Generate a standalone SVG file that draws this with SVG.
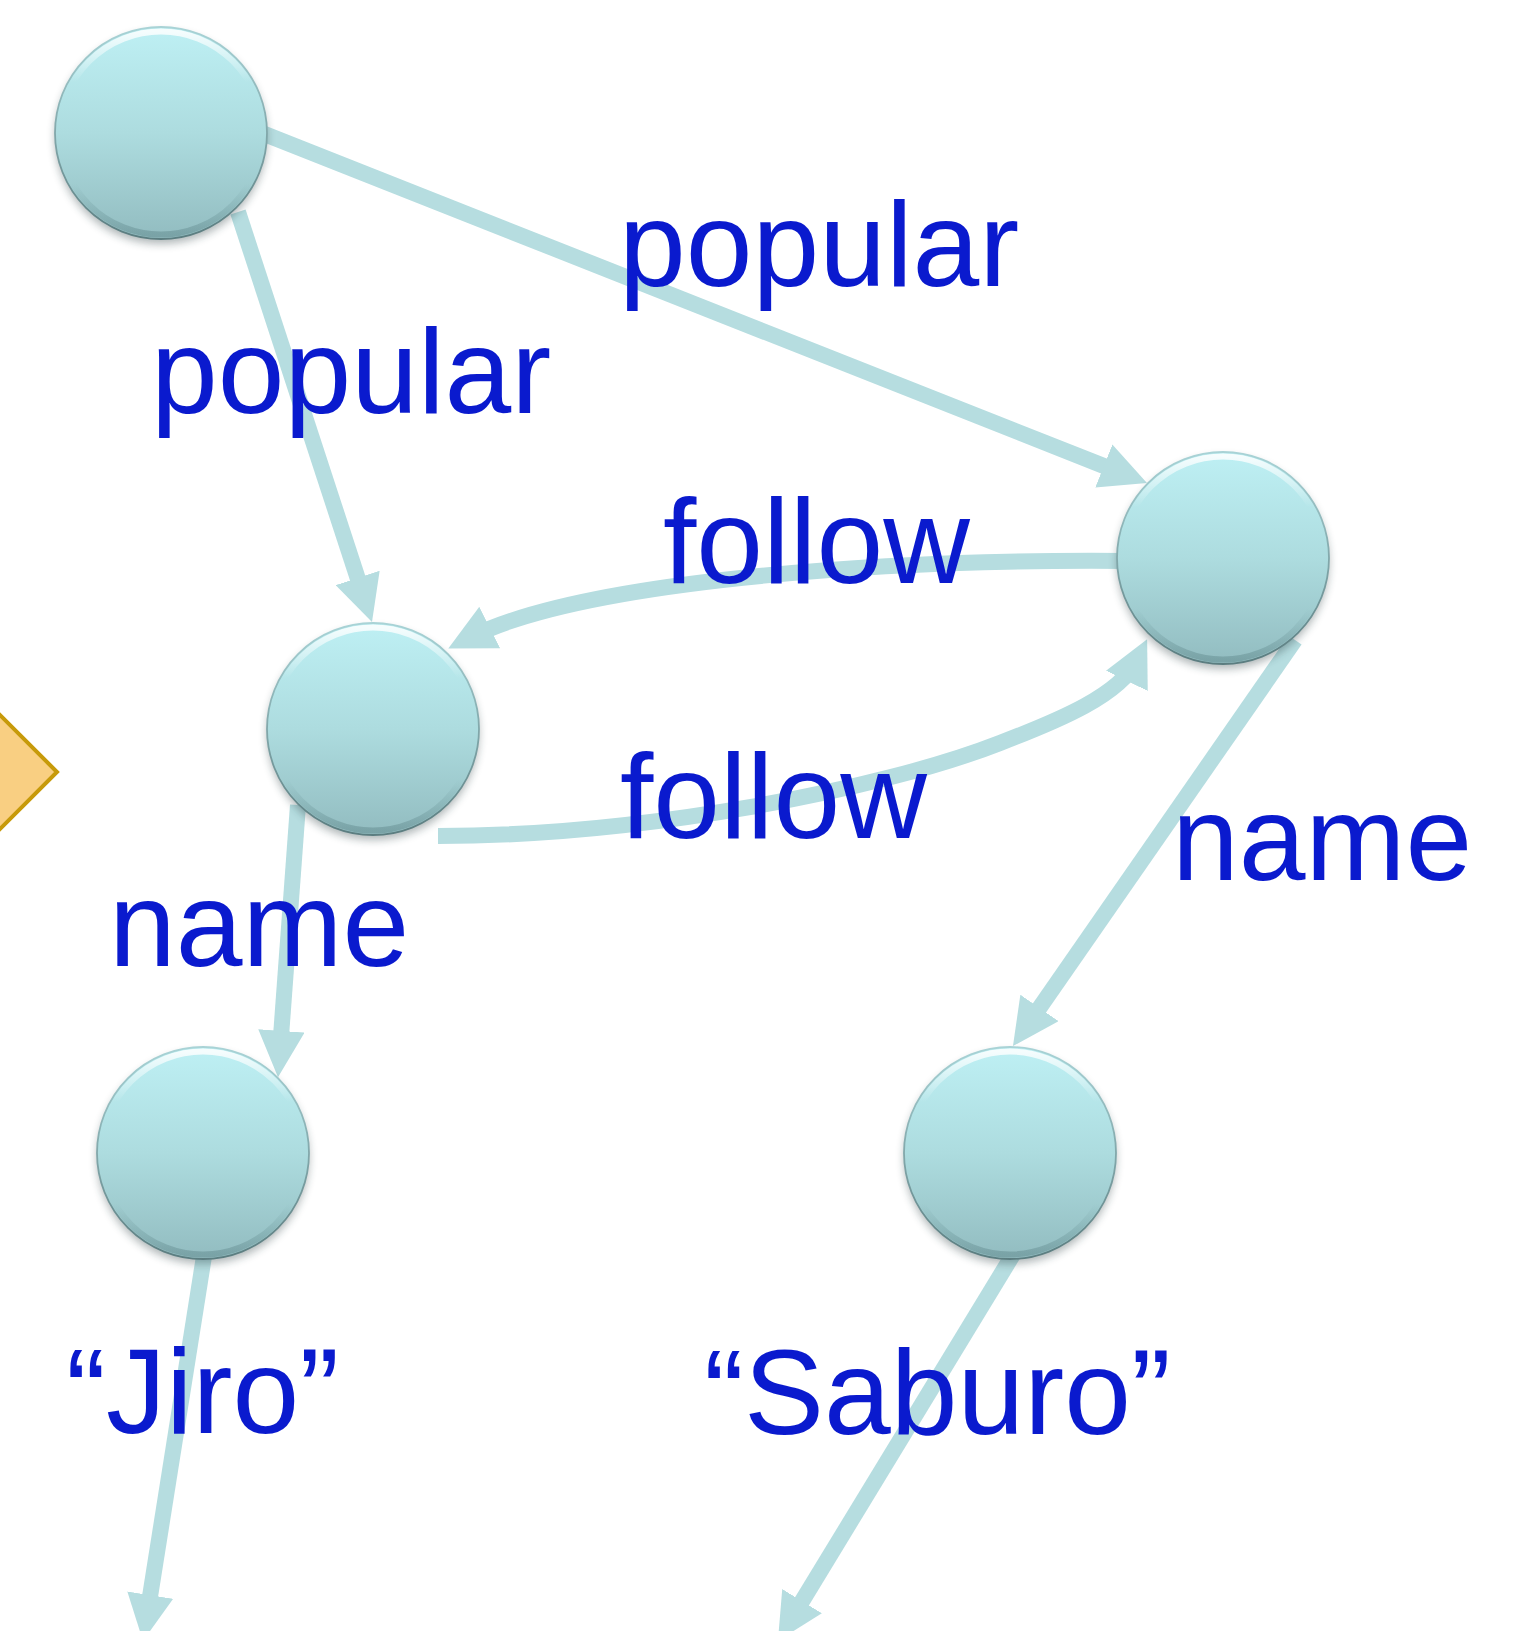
<svg xmlns="http://www.w3.org/2000/svg" xmlns:xlink="http://www.w3.org/1999/xlink" width="1527" height="1631" viewBox="0 0 1527 1631">
  <style>
    .edge { fill: none; stroke: #B6DDE0; stroke-width: 16; stroke-linecap: butt; marker-end: url(#arrow); }
    .label { font-family: "Liberation Sans", Arial, sans-serif; font-size: 120px; fill: #0A1ACE; }
  </style>
  <defs>
    <marker id="arrow" viewBox="0 0 10 10" refX="5" refY="5" markerWidth="2.9" markerHeight="2.9" orient="auto">
      <path d="M0,0 L10,5 L0,10 z" fill="#B6DDE0"/>
    </marker>
    <linearGradient id="ballFill" x1="0" y1="0" x2="0" y2="1">
      <stop offset="0" stop-color="#BEF0F4"/>
      <stop offset="0.5" stop-color="#ADDCDF"/>
      <stop offset="1" stop-color="#92BCC0"/>
    </linearGradient>
    <linearGradient id="bevel" x1="0" y1="0" x2="0" y2="1">
      <stop offset="0" stop-color="#FFFFFF" stop-opacity="0.85"/>
      <stop offset="0.25" stop-color="#FFFFFF" stop-opacity="0"/>
      <stop offset="0.75" stop-color="#2E5558" stop-opacity="0"/>
      <stop offset="1" stop-color="#2E5558" stop-opacity="0.25"/>
    </linearGradient>
    <linearGradient id="rim" x1="0" y1="0" x2="0" y2="1">
      <stop offset="0" stop-color="#A9D3D6"/>
      <stop offset="1" stop-color="#5B7D80"/>
    </linearGradient>
    <filter id="soft" x="-20%" y="-20%" width="140%" height="140%">
      <feGaussianBlur stdDeviation="4"/>
    </filter>
    <!-- shaded ball used for every node -->
    <g id="ball">
      <circle cy="5" r="106" fill="#1F3335" opacity="0.35" filter="url(#soft)"/>
      <circle r="106" fill="url(#ballFill)"/>
      <circle r="101.5" fill="none" stroke="url(#bevel)" stroke-width="6"/>
      <circle r="106" fill="none" stroke="url(#rim)" stroke-width="1.8"/>
    </g>
  </defs>

  <rect width="1527" height="1631" fill="#FFFFFF"/>

  <!-- arrow shape at the left edge -->
  <polygon id="pointer" points="-60,655 57,772 -60,889" fill="#F9CF82" stroke="#C79A0A" stroke-width="4"/>

  <g id="connectors">
    <path class="edge" d="M262,133 L1125.4,474.5"/>
    <path class="edge" d="M238,212 L364.8,600"/>
    <path class="edge" d="M1125,561 C870,559 580,582 469,638"/>
    <path class="edge" d="M438,836 C640,836 880,790 1000,743 C1060,720 1120,695 1137,660"/>
    <path class="edge" d="M1295,640 L1026.2,1027"/>
    <path class="edge" d="M298,805 L279.7,1054"/>
    <path class="edge" d="M205,1250 L146.6,1618"/>
    <path class="edge" d="M1014,1253 L790,1621"/>
  </g>

  <g id="node-top" transform="translate(161,133)"><use xlink:href="#ball" href="#ball"/></g>
  <g id="node-right" transform="translate(1223,558)"><use xlink:href="#ball" href="#ball"/></g>
  <g id="node-middle" transform="translate(373,729)"><use xlink:href="#ball" href="#ball"/></g>
  <g id="node-jiro" transform="translate(203,1153)"><use xlink:href="#ball" href="#ball"/></g>
  <g id="node-saburo" transform="translate(1010,1153)"><use xlink:href="#ball" href="#ball"/></g>

  <g id="labels">
    <text class="label" x="619" y="286">popular</text>
    <text class="label" x="151" y="413">popular</text>
    <text class="label" x="663" y="583">follow</text>
    <text class="label" x="620" y="838">follow</text>
    <text class="label" x="1172" y="880">name</text>
    <text class="label" x="109" y="966">name</text>
    <text class="label" x="66" y="1433">“Jiro”</text>
    <text class="label" x="704" y="1434">“Saburo”</text>
  </g>
</svg>
